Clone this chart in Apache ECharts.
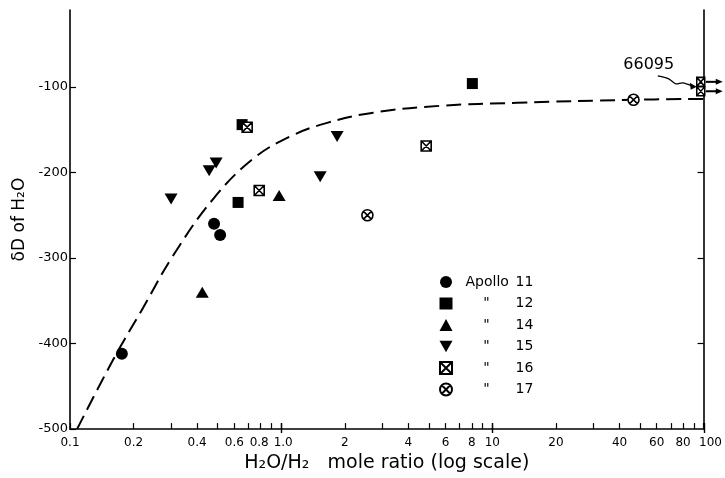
<!DOCTYPE html>
<html>
<head>
<meta charset="utf-8">
<script src="https://cdn.jsdelivr.net/npm/echarts@6/dist/echarts.min.js"></script>
<style>
html,body{margin:0;padding:0;background:#fff}
#chart{width:725px;height:478px}
</style>
</head>
<body>
<div id="chart"></div>
<script>
// [H2O/H2 mole ratio, deltaD of H2O] per mission
const apollo11 = [[0.176, -412], [0.481, -260], [0.514, -273]];
const apollo12 = [[0.625, -235], [0.653, -144], [8.04, -96]];
const apollo14 = [[0.423, -340], [0.978, -227]];
const apollo15 = [[0.301, -231], [0.456, -198], [0.492, -189], [1.53, -205], [1.84, -158]];
const apollo16 = [[0.69, -147], [0.787, -221], [4.86, -169]];
const apollo17 = [[2.56, -250], [46.6, -115]];
// sample 66095, ratio off scale (> 100)
const sample66095 = [[97, -94], [97, -105]];

// dashed trend curve
const curve = [
  [0.108, -500], [0.160, -419], [0.222, -358], [0.308, -297], [0.476, -231],
  [0.736, -184], [1.10, -158], [1.65, -142], [2.73, -130], [5.67, -122],
  [13.1, -118.5], [45, -115], [100, -114]
];

const xTicks = [0.1, 0.2, 0.3, 0.4, 0.5, 0.6, 0.7, 0.8, 0.9, 1, 2, 3, 4, 5, 6, 7, 8, 9, 10,
  20, 30, 40, 50, 60, 70, 80, 90, 100];
const xMajorTicks = [1, 10, 100];
const xLabels = [0.1, 0.2, 0.4, 0.6, 0.8, 1, 2, 4, 6, 8, 10, 20, 40, 60, 80, 100];
const yLabels = [-500, -400, -300, -200, -100];
const yRightTicks = [-400, -300, -200, -100];

const FONT = 'DejaVu Sans';
const boxX = 'path://M0,0H10V10H0Z M0,0L10,10 M10,0L0,10';
const circleX = 'path://M0,5A5,5 0 1,1 10,5A5,5 0 1,1 0,5Z M1.5,1.5L8.5,8.5 M8.5,1.5L1.5,8.5';
const triDown = 'path://M0,0L10,0L5,9Z';

const fmtX = v => {
  const r = Math.round(v * 10) / 10;
  if (r === 1) return '{rt|1.0}';
  if (r === 0.8) return '{lf|0.8}';
  if (r === 100) return '{r|100}';
  return r < 1 ? r.toFixed(1) : String(Math.round(r));
};

const names = ['Apollo 11', 'Apollo 12', 'Apollo 14', 'Apollo 15', 'Apollo 16', 'Apollo 17'];

const chart = echarts.init(document.getElementById('chart'));

const filled = {color: '#000', opacity: 1};
const hollow = {color: '#fff', borderColor: '#000', borderWidth: 1.6, opacity: 1};

chart.setOption({
  animation: false,
  textStyle: {fontFamily: FONT, color: '#000'},
  grid: [
    {left: 70, right: 21, top: 10, bottom: 45},
    {left: 70, right: 21, top: 10, bottom: 45}
  ],
  legend: {
    data: names,
    orient: 'vertical',
    left: 439,
    top: 275,
    padding: 0,
    itemGap: 7.5,
    itemWidth: 13,
    itemHeight: 12,
    selectedMode: false,
    textStyle: {
      fontSize: 14,
      lineHeight: 14,
      color: '#000',
      rich: {
        a: {fontSize: 14, width: 50, padding: [0, 0, 0, 8]},
        q: {fontSize: 14, width: 42, align: 'center', padding: [0, 8, 0, 8]},
        n: {fontSize: 14}
      }
    },
    formatter: name => name === 'Apollo 11'
      ? '{a|Apollo}{n|11}'
      : '{q|"}{n|' + name.slice(7) + '}'
  },
  xAxis: [
    {
      type: 'log', gridIndex: 0, min: 0.1, max: 100, logBase: 10,
      name: 'H₂O/H₂   mole ratio (log scale)',
      nameLocation: 'middle', nameGap: 21,
      nameTextStyle: {fontSize: 19, color: '#000'},
      axisLine: {show: true, lineStyle: {color: '#000', width: 1.6}},
      axisTick: {inside: true, length: 6, customValues: xTicks, lineStyle: {color: '#000', width: 1.2}},
      axisLabel: {
        customValues: xLabels, formatter: fmtX, color: '#000', fontSize: 12, margin: 8,
        rich: {
          r: {fontSize: 12, padding: [0, 0, 0, 14]},
          rt: {fontSize: 12, padding: [0, 0, 0, 4]},
          lf: {fontSize: 12, padding: [0, 3, 0, 0]}
        }
      },
      splitLine: {show: false}
    },
    {
      type: 'log', gridIndex: 1, min: 0.1, max: 100, logBase: 10,
      axisLine: {show: false},
      axisTick: {inside: true, length: 10, customValues: xMajorTicks, lineStyle: {color: '#000', width: 1.4}},
      axisLabel: {show: false},
      splitLine: {show: false}
    }
  ],
  yAxis: [
    {
      type: 'value', gridIndex: 0, position: 'left', min: -500, max: -10, interval: 100,
      name: 'δD of H₂O',
      nameLocation: 'middle', nameGap: 34,
      nameTextStyle: {fontSize: 17, color: '#000'},
      axisLine: {show: true, lineStyle: {color: '#000', width: 1.6}},
      axisTick: {inside: true, length: 6, customValues: yLabels, lineStyle: {color: '#000', width: 1.2}},
      axisLabel: {customValues: yLabels, color: '#000', fontSize: 13, margin: 2},
      splitLine: {show: false}
    },
    {
      type: 'value', gridIndex: 0, position: 'right', min: -500, max: -10, interval: 100,
      axisLine: {show: true, lineStyle: {color: '#000', width: 1.6}},
      axisTick: {inside: true, length: 6, customValues: yRightTicks, lineStyle: {color: '#000', width: 1.2}},
      axisLabel: {show: false},
      splitLine: {show: false}
    },
    {type: 'value', gridIndex: 1, min: -500, max: -10, show: false}
  ],
  series: [
    {
      type: 'line', data: curve, smooth: 0.4, symbol: 'none',
      lineStyle: {color: '#000', width: 2, type: [15, 7]},
      silent: true, z: 1
    },
    {name: 'Apollo 11', type: 'scatter', data: apollo11, symbol: 'circle', symbolSize: 12, itemStyle: filled},
    {name: 'Apollo 12', type: 'scatter', data: apollo12, symbol: 'rect', symbolSize: 11, itemStyle: filled},
    {name: 'Apollo 14', type: 'scatter', data: apollo14, symbol: 'triangle', symbolSize: [13, 11], itemStyle: filled},
    {name: 'Apollo 15', type: 'scatter', data: apollo15, symbol: triDown, symbolSize: [13, 11], itemStyle: filled},
    {name: 'Apollo 16', type: 'scatter', data: apollo16, symbol: boxX, symbolSize: 10, itemStyle: hollow},
    {name: 'Apollo 17', type: 'scatter', data: apollo17, symbol: circleX, symbolSize: 11, itemStyle: hollow},
    {name: '66095', type: 'scatter', data: sample66095, symbol: boxX, symbolSize: [8, 9], itemStyle: hollow, z: 3}
  ]
});

// arrows and label for 66095, placed from the axis scales
const px = sample66095.map(p => chart.convertToPixel({xAxisIndex: 0, yAxisIndex: 0}, p));
const graphics = [];
px.forEach(([x, y]) => {
  graphics.push({
    type: 'line', shape: {x1: x + 5, y1: y, x2: x + 16, y2: y},
    style: {stroke: '#000', lineWidth: 2}, z: 10
  });
  graphics.push({
    type: 'polygon', shape: {points: [[x + 15, y - 3], [x + 22, y], [x + 15, y + 3]]},
    style: {fill: '#000'}, z: 10
  });
});
const [bx, by] = px[0];
graphics.push({
  type: 'text', z: 10,
  style: {text: '66095', x: bx - 52, y: by - 17, font: '16px ' + FONT, fill: '#000', align: 'center', verticalAlign: 'middle'}
});
graphics.push({
  type: 'polyline', z: 10,
  shape: {points: [[bx - 43, by - 6], [bx - 32, by - 3], [bx - 25, by + 2], [bx - 18, by + 1], [bx - 9, by + 4]], smooth: 0.3},
  style: {stroke: '#000', lineWidth: 1.3, fill: null}
});
graphics.push({
  type: 'polygon', z: 10,
  shape: {points: [[bx - 4, by + 5], [bx - 11, by + 1], [bx - 10, by + 8]]},
  style: {fill: '#000'}
});
chart.setOption({graphic: graphics});
</script>
</body>
</html>
